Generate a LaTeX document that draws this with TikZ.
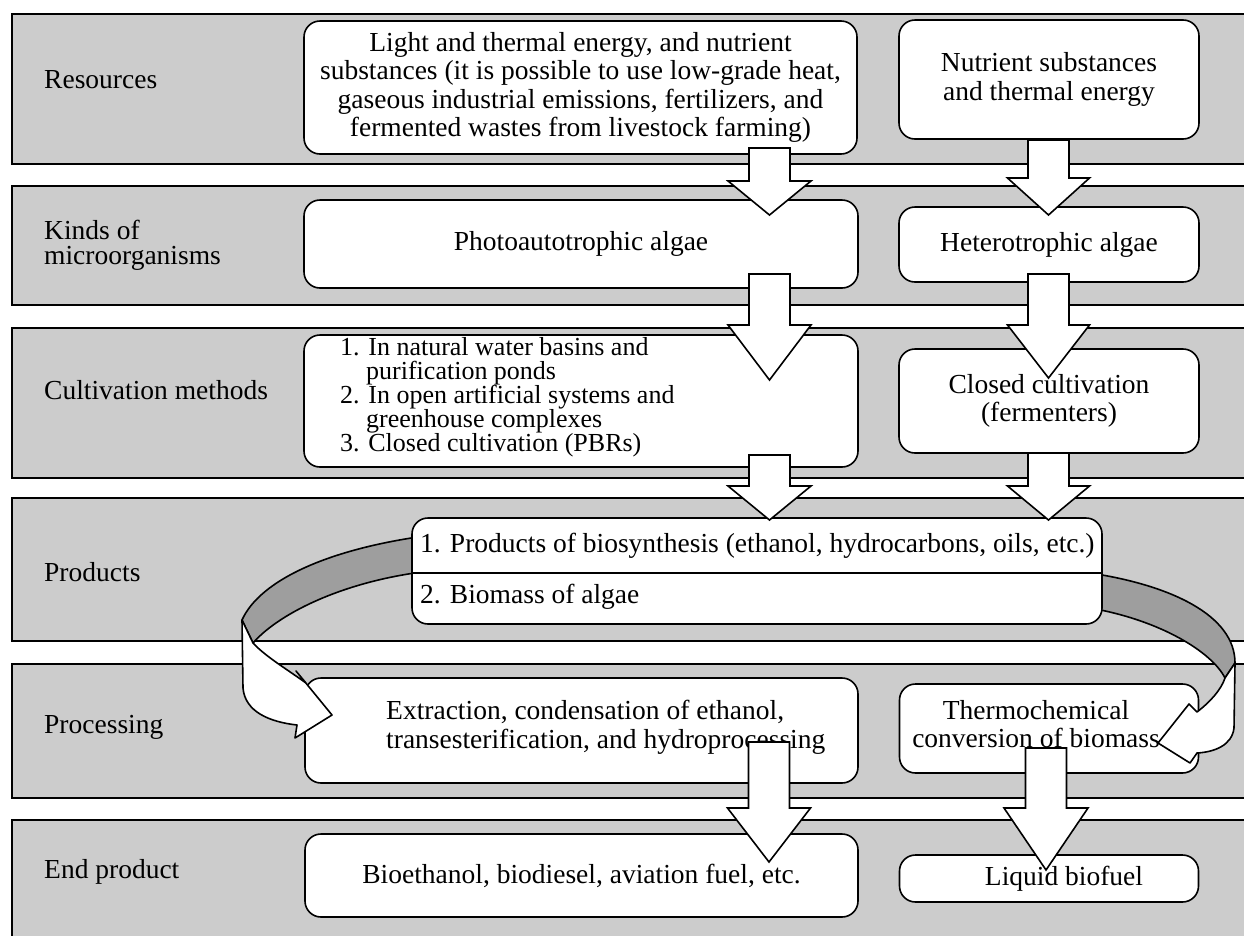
\documentclass[tikz,border=0pt]{standalone}
\usepackage{fontspec}
\setmainfont{Liberation Serif}
\usetikzlibrary{calc}
\definecolor{bandgray}{RGB}{204,204,204}
\definecolor{ribgray}{RGB}{158,158,158}
\newcommand{\blkarrow}[5]{%
  \draw[blkarr] ($(#1)+(-#4,0)$) -- ($(#2)+(-#4,-#3)$) -- ($(#2)+(-#5,-#3)$) -- (#2)
    -- ($(#2)+(#5,-#3)$) -- ($(#2)+(#4,-#3)$) -- ($(#1)+(#4,0)$) -- cycle;}
\begin{document}
\begin{tikzpicture}[x=1pt,y=-1pt,
  font=\fontsize{27.5}{28.5}\selectfont,
  band/.style={draw, line width=1.6pt, fill=bandgray, anchor=north west, inner sep=0pt, minimum width=1260pt},
  lbl/.style={anchor=west, align=left, inner sep=0pt},
  box/.style={draw, line width=1.6pt, fill=white, rounded corners=16pt, inner sep=0pt, align=center},
  txt/.style={inner sep=0pt},
  blkarr/.style={draw, line width=1.6pt, fill=white, line join=miter},
  ribbon/.style={draw, line width=1.6pt, line join=round}]
\useasboundingbox (0,0) rectangle (1244,935);
% bands
\node[band, minimum height=150pt] (band1) at (11,13) {};
\node[band, minimum height=119pt] (band2) at (11,185) {};
\node[band, minimum height=150pt] (band3) at (11,327) {};
\node[band, minimum height=143pt] (band4) at (11,497) {};
\node[band, minimum height=134pt] (band5) at (11,663) {};
\node[band, minimum height=130pt] (band6) at (11,819) {};
% labels
\node[lbl] (l1) at (44,80) {Resources};
\node[lbl, font=\fontsize{27.5}{25}\selectfont] (l2) at (44,245.5) {Kinds of\\microorganisms};
\node[lbl] (l3) at (44,390) {Cultivation methods};
\node[lbl] (l4) at (44,572) {Products};
\node[lbl] (l5) at (44,727) {Processing};
\node[lbl] (l6) at (44,872) {End product};
% boxes
\node[box, minimum width=553pt, minimum height=133pt] (r1) at (580.5,87.5)
  {Light and thermal energy, and nutrient\\substances (it is possible to use low-grade heat,\\gaseous industrial emissions, fertilizers, and\\fermented wastes from livestock farming)};
\node[box, minimum width=300pt, minimum height=119pt] (r2) at (1049,79.5)
  {Nutrient substances\\and thermal energy};
\node[box, minimum width=554pt, minimum height=88pt] (k1) at (581,244) {Photoautotrophic algae};
\node[box, minimum width=300pt, minimum height=75pt] (k2) at (1049,244.5) {Heterotrophic algae};
\node[box, minimum width=554pt, minimum height=132pt] (c1) at (581,401) {};
\node[txt, anchor=west, align=left, font=\fontsize{26}{24}\selectfont] (c1t) at (340,397)
  {1. In natural water basins and\\\hspace*{26pt}purification ponds\\2. In open artificial systems and\\\hspace*{26pt}greenhouse complexes\\3. Closed cultivation (PBRs)};
\node[box, minimum width=300pt, minimum height=104pt] (c2) at (1049,401) {Closed cultivation\\(fermenters)};
\node[box, minimum width=553pt, minimum height=105pt] (e1) at (581.5,730.5) {};
\node[txt, anchor=west, align=left] (e1t) at (386,727.5)
  {Extraction, condensation of ethanol,\\transesterification, and hydroprocessing};
\node[box, minimum width=299pt, minimum height=89pt] (e2) at (1049,728.5) {};
\node[txt, align=center] (e2t) at (1036,724) {Thermochemical\\conversion of biomass};
\node[box, minimum width=553pt, minimum height=83pt] (f1) at (581.5,875.5) {Bioethanol, biodiesel, aviation fuel, etc.};
\node[box, minimum width=299pt, minimum height=47pt] (f2) at (1049,878.5) {\hspace*{30pt}Liquid biofuel};
% left ribbon
\draw[ribbon, fill=ribgray] (440,534) .. controls (330,547) and (260,580) .. (242,620)
  -- (253,643) .. controls (280,612) and (350,578) .. (440,570) -- cycle;
\draw[ribbon, fill=white] (242,620) -- (243,688) .. controls (245,712) and (270,722) .. (297,725)
  -- (295,738) -- (332,715) -- (296,671) -- (306,683)
  .. controls (285,668) and (265,656) .. (253,643) -- cycle;
% right ribbon
\draw[ribbon, fill=ribgray] (1090,573) .. controls (1170,585) and (1235,615) .. (1235,663)
  -- (1225,678) .. controls (1212,652) and (1160,620) .. (1090,608) -- cycle;
\draw[ribbon, fill=white] (1235,663) -- (1234,728) .. controls (1232,745) and (1215,752) .. (1197,753)
  -- (1190,763) -- (1158,743) -- (1189,704) -- (1197,712)
  .. controls (1210,702) and (1221,690) .. (1225,678) -- cycle;
% products box
\node[box, minimum width=690pt, minimum height=106pt] (prod) at (757,571) {};
\coordinate (pdiv) at (0,573);
\draw[line width=1.6pt] (prod.west |- pdiv) -- (prod.east |- pdiv);
\node[txt, anchor=west] (p1) at (420,546) {1. Products of biosynthesis (ethanol, hydrocarbons, oils, etc.)};
\node[txt, anchor=west] (p2) at (420,597) {2. Biomass of algae};
% block arrows
\coordinate (a1s) at (769.5,148); \coordinate (a1e) at (769.5,215);
\coordinate (a2s) at (1048.5,140); \coordinate (a2e) at (1048.5,215);
\coordinate (a3s) at (769.5,274); \coordinate (a3e) at (769.5,380);
\coordinate (a4s) at (1048.5,274); \coordinate (a4e) at (1048.5,378);
\coordinate (a5s) at (769.5,455); \coordinate (a5e) at (769.5,520);
\coordinate (a6s) at (1048.5,453); \coordinate (a6e) at (1048.5,520);
\coordinate (a7s) at (769,742); \coordinate (a7e) at (769,862);
\coordinate (a8s) at (1046,748); \coordinate (a8e) at (1046,870);
\blkarrow{a1s}{a1e}{34}{20.5}{41.5}
\blkarrow{a2s}{a2e}{37}{20.5}{41}
\blkarrow{a3s}{a3e}{55}{20.5}{41.5}
\blkarrow{a4s}{a4e}{53}{20.5}{41}
\blkarrow{a5s}{a5e}{34}{20.5}{41.5}
\blkarrow{a6s}{a6e}{34}{20.5}{41}
\blkarrow{a7s}{a7e}{54}{20.5}{41.5}
\blkarrow{a8s}{a8e}{62}{20.5}{42}
\end{tikzpicture}
\end{document}
